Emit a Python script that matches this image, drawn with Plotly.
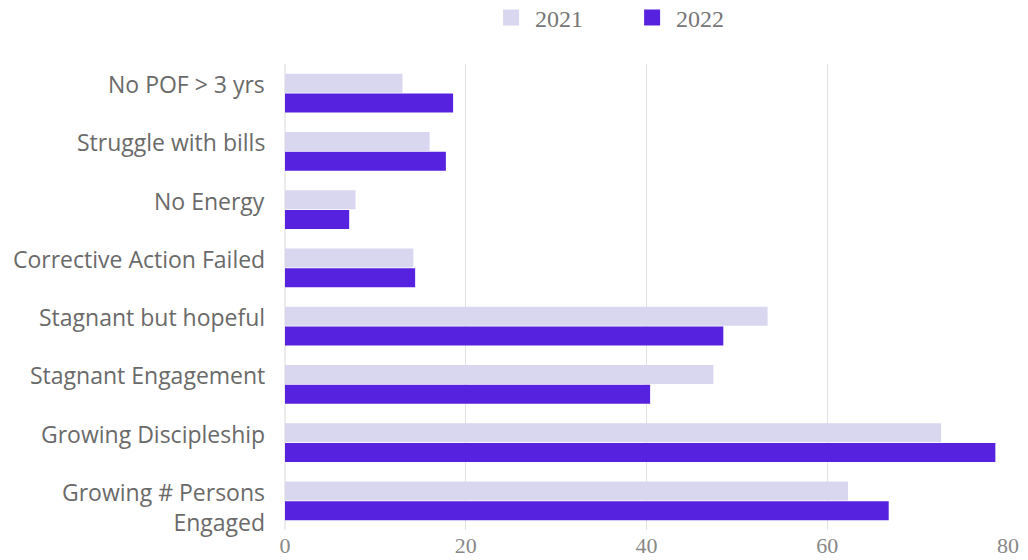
import plotly.graph_objects as go

categories = [
    "No POF > 3 yrs",
    "Struggle with bills",
    "No Energy",
    "Corrective Action Failed",
    "Stagnant but hopeful",
    "Stagnant Engagement",
    "Growing Discipleship",
    "Growing # Persons<br>Engaged",
]
values_2021 = [13.0, 16.0, 7.8, 14.2, 53.4, 47.4, 72.6, 62.3]
values_2022 = [18.6, 17.8, 7.1, 14.4, 48.5, 40.4, 78.6, 66.8]
series_names = ["2021", "2022"]
series_colors = ["#d9d6ef", "#5722df"]
x_ticks = [0, 20, 40, 60, 80]

fig = go.Figure()
for name, vals, col in zip(series_names, [values_2021, values_2022], series_colors):
    fig.add_trace(go.Bar(y=categories, x=vals, name=name, orientation="h",
                         marker=dict(color=col, line=dict(width=0)),
                         showlegend=False, legendgroup=name))
# legend entries with larger square swatches
for name, col in zip(series_names, series_colors):
    fig.add_trace(go.Scatter(x=[None], y=[None], mode="markers", name=name,
                             marker=dict(symbol="square", size=16, color=col),
                             legendgroup=name, showlegend=True))

# category labels, top-aligned within each band (as in the original)
for cat in categories:
    fig.add_annotation(x=0, xref="paper", y=cat, yref="y",
                       text=cat, showarrow=False,
                       xanchor="right", yanchor="top", align="right",
                       xshift=-18, yshift=27,
                       font=dict(family="Open Sans", size=23, color="#6a6a6a"))

fig.update_layout(
    width=1028, height=560,
    margin=dict(l=285, r=20, t=64, b=30),
    paper_bgcolor="white", plot_bgcolor="white",
    barmode="group", bargap=0.32, bargroupgap=0.05,
    showlegend=True,
    legend=dict(orientation="h", xref="container", yref="container",
                x=0.611, xanchor="center", y=1 - 18 / 560, yanchor="middle",
                font=dict(family="Liberation Serif", size=24, color="#777"),
                itemwidth=38, entrywidth=88, entrywidthmode="pixels",
                traceorder="normal"),
    xaxis=dict(range=[0, 80], tickvals=x_ticks, ticktext=[str(v) for v in x_ticks],
               showgrid=True, gridcolor="#e2e2e2", gridwidth=1,
               zeroline=True, zerolinecolor="#ececec",
               tickfont=dict(family="Liberation Serif", size=22, color="#888"),
               showline=False, ticks="", automargin=False),
    yaxis=dict(autorange="reversed", showgrid=False, ticks="",
               showticklabels=False, automargin=False),
)

fig.write_html("out.html", config={"displayModeBar": False})

with open("out.html", "r", encoding="utf-8") as f:
    html = f.read()
html = html.replace("<body>", '<body style="margin:0;padding:0;">', 1)
with open("out.html", "w", encoding="utf-8") as f:
    f.write(html)
